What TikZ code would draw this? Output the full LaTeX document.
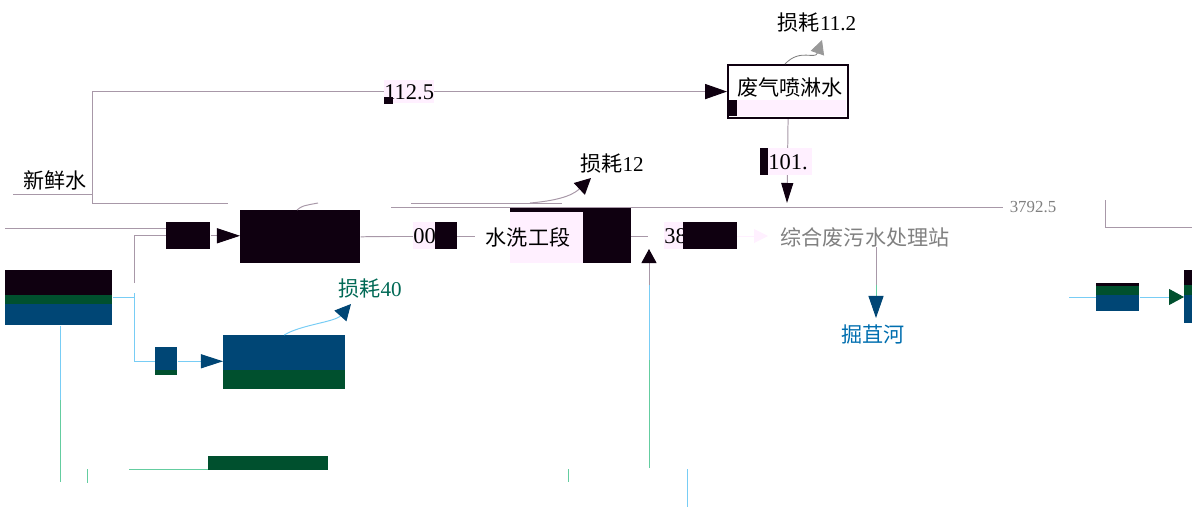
\documentclass[tikz,border=0pt]{standalone}
\usepackage{fontspec}
\setmainfont{Liberation Serif}
\newfontfamily\cjk{Noto Sans CJK SC}
\usetikzlibrary{arrows.meta}
\definecolor{ink}{RGB}{15,0,16}
\definecolor{wgreen}{RGB}{0,80,46}
\definecolor{wblue}{RGB}{0,70,117}
\definecolor{wline}{RGB}{168,152,168}
\definecolor{pinkbg}{RGB}{255,240,255}
\definecolor{cyanline}{RGB}{120,205,245}
\definecolor{greenline}{RGB}{100,205,160}
\definecolor{riverblue}{RGB}{0,110,175}
\definecolor{losscol}{RGB}{0,105,85}
\newcommand\zh[1]{{\cjk #1}}
\tikzset{
	pipe/.style={draw=wline, line width=0.7pt},
	bigtip/.style={-{Triangle[length=5.5mm,width=3.8mm,color=ink,#1]}},
	bigtip/.default={},
	blk/.style={fill=ink, inner sep=0pt, anchor=north west},
	txt/.style={font=\fontsize{15}{18}\selectfont, inner sep=0pt},
	num/.style={font=\fontsize{16}{18}\selectfont, fill=pinkbg, inner sep=0pt, anchor=north west},
}
\begin{document}
\begin{tikzpicture}[x=0.025cm, y=-0.025cm]
		\useasboundingbox (0,0) rectangle (1192,507);
		% boxes
		\node[blk, minimum width=26.75mm, minimum height=13.75mm] (stack) at (5,270) {};
		\fill[wgreen] (5,295) rectangle (112,304);
		\fill[wblue] (5,304) rectangle (112,325);
		\node[blk, minimum width=11mm, minimum height=6.75mm] (feed) at (166,222) {};
		\node[blk, minimum width=30mm, minimum height=13.25mm] (prod) at (240,210) {};
		\node[blk, fill=wblue, minimum width=5.5mm, minimum height=7mm] (pump) at (155,347) {};
		\fill[wgreen] (155,370) rectangle (177,375);
		\node[blk, fill=wblue, minimum width=30.5mm, minimum height=13.5mm] (cool) at (223,335) {};
		\fill[wgreen] (223,370) rectangle (345,389);
		\node[blk, fill=wgreen, minimum width=30mm, minimum height=3.5mm] (tank) at (208,456) {};
		\node[blk, fill=wblue, minimum width=10.75mm, minimum height=7mm] (rsmall) at (1096,283) {};
		\fill[wgreen] (1096,286) rectangle (1139,295);
		\fill[ink] (1096,283) rectangle (1139,286);
		\node[blk, fill=wblue, minimum width=2mm, minimum height=13.25mm] (redge) at (1184,270) {};
		\fill[ink] (1184,270) rectangle (1192,285);
		\fill[wgreen] (1184,285) rectangle (1192,295);
		\node[blk, fill=pinkbg, minimum width=30.25mm, minimum height=13.75mm] (wash) at (510,208) {};
		\fill[ink] (583,208) rectangle (631,263);
		\fill[ink] (510,208) rectangle (583,212);
		\node[txt] (washtxt) at (528,237) {\zh{水洗工段}};
		\node[blk, fill=none, draw=ink, line width=1.5pt, minimum width=30mm, minimum height=13.25mm] (spray) at (727,64) {};
		\fill[pinkbg] (728,100) rectangle (846,116);
		\fill[ink] (728,100) rectangle (737,116);
		\node[txt] (spraytxt) at (790,88) {\zh{废气喷淋水}};
		% fresh water
		\node[txt] (fresh) at (55,180) {\zh{新鲜水}};
		\coordinate (src) at (92,203);
		\draw[pipe] (13,194) -- (src |- 0,194);
		\draw[pipe] (src) -- (228,203);
		\draw[pipe, bigtip] (src) |- (spray.west);
		\node[num, minimum width=12.25mm, minimum height=5.75mm] (l112) at (384,80) {112.5};
		\fill[ink] (384,97) rectangle (393,104);
		% feed line
		\draw[pipe] (5,228) -- (feed.west |- 0,228);
		\draw[pipe] (134,283) |- (feed.west);
		\draw[pipe, bigtip={length=5.75mm,width=3.75mm}] (feed.east) -- (prod.west |- feed.east);
		\draw[pipe] (prod.east) -- (390,236.5);
		\draw[pipe] (297,210) .. controls (302,206) .. (318,203);
		\draw[cyanline, line width=0.7pt] (stack.east |- 0,297) -- (134,297);
		\draw[cyanline, line width=0.7pt] (134,293) |- (pump.west);
		\draw[draw=cyanline, line width=0.7pt, bigtip={length=5.5mm,width=3.5mm,color=wblue}] (pump.east) -- (cool.west |- pump.east);
		\draw[draw=cyanline, line width=0.7pt, bigtip={length=4mm,width=4mm,color=wblue}] (cool.north) .. controls (300,325) and (335,322) .. (351,304);
		\node[txt, text=losscol] (loss40) at (370,289) {\zh{损耗}40};
		\draw[cyanline, line width=0.7pt] (stack.south -| 60,0) -- (60,400);
		\draw[greenline, line width=0.7pt] (60,400) -- (60,482);
		\draw[greenline, line width=0.7pt] (129,469) -- (tank.west |- 0,469);
		\draw[greenline, line width=0.7pt] (87,469) -- (87,483);
		\draw[greenline, line width=0.7pt] (568,469) -- (568,482);
		\draw[cyanline, line width=0.5pt] (687,469) -- (687,507);
		% main header
		\draw[pipe] (391,207) -- (1003,207);
		\draw[pipe] (411,203) -- (562,203);
		\draw[pipe, bigtip={length=4mm,width=4mm}] (530,203) .. controls (565,200) and (575,193) .. (591,178);
		\node[txt] (loss12) at (612,164) {\zh{损耗}12};
		\node[font=\fontsize{12}{14}\selectfont, text=gray, inner sep=0pt] (l3792) at (1033,207) {3792.5};
		\draw[pipe] (1105,200) |- (1192,227);
		% wash row
		\draw[pipe] (390,236.5) -- (413,236.5);
		\draw[pipe] (457,236.5) -- (475,236.5);
		\draw[pipe] (631,236.5) -- (648,236.5);
		\node[num, minimum width=5.5mm, minimum height=6.75mm] (l00) at (413,222) {00};
		\fill[ink] (435,222) rectangle (457,249);
		\node[num, minimum width=4.75mm, minimum height=6.75mm] (l38) at (664,222) {38};
		\fill[ink] (683,222) rectangle (737,249);
		\draw[draw=pinkbg, line width=0.7pt, bigtip={length=3.5mm,width=3.5mm,color=pinkbg}] (737,236) -- (768,236);
		\node[txt, text=gray] (plant) at (865,237) {\zh{综合废污水处理站}};
		\draw[greenline, line width=0.7pt] (649,468) -- (649,360);
		\draw[cyanline, line width=0.7pt] (649,360) -- (649,285);
		\draw[pipe, bigtip={length=3.5mm,width=3.75mm}] (649,285) -- (649,249);
		% spray outlet
		\draw[pipe, bigtip={length=5mm,width=3mm}] (spray.south) -- (787,203);
		\fill[ink] (760,148) rectangle (768,175);
		\node[num, minimum width=11mm, minimum height=6.75mm, align=left, text width=11mm] (l101) at (768,148) {101.};
		\draw[gray, line width=0.6pt, bigtip={length=3.5mm,width=3.5mm,color=gray!80}] (785,64) .. controls (800,48) and (815,60) .. (822,40);
		\node[txt] (loss11) at (817,23) {\zh{损耗}11.2};
		% river
		\draw[pipe] (plant.south -| 876,0) -- (876,285);
		\draw[draw=greenline, line width=0.7pt, bigtip={length=5.5mm,width=3.75mm,color=wblue}] (876,285) -- (876,318);
		\node[txt, text=riverblue] (river) at (873,334) {\zh{掘苴河}};
		% right side
		\draw[cyanline, line width=0.7pt] (1069,297) -- (rsmall.west |- 0,297);
		\draw[draw=cyanline, line width=0.7pt, bigtip={length=3.75mm,width=4mm,color=wgreen}] (rsmall.east |- 0,297) -- (redge.west |- 0,297);
\end{tikzpicture}
\end{document}
